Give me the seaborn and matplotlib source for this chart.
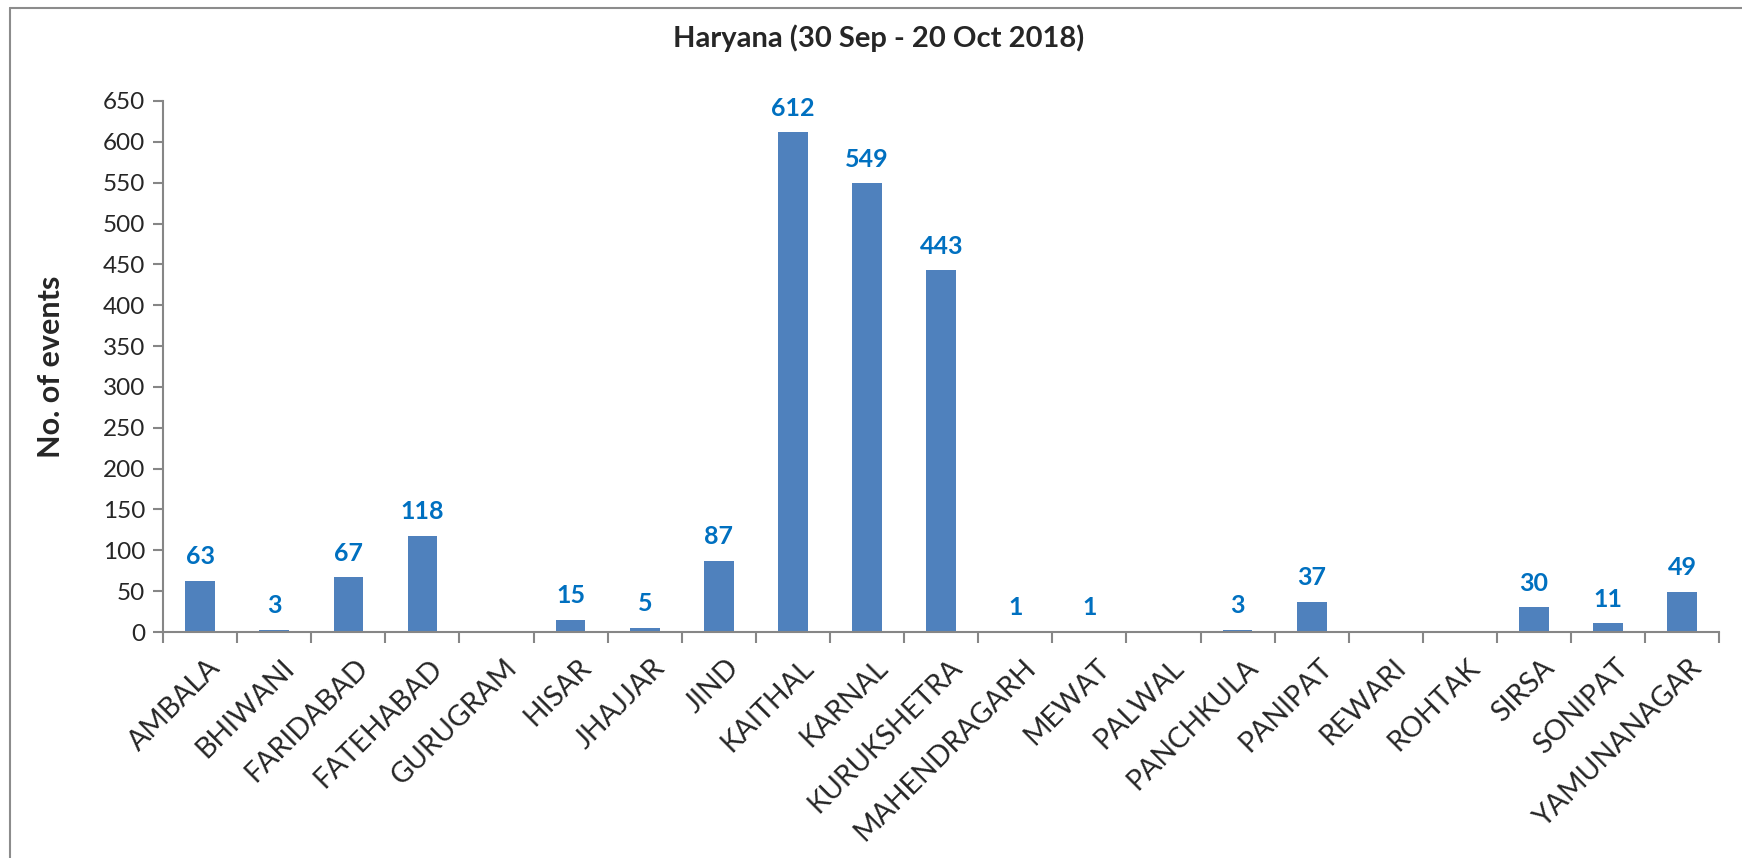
import matplotlib
matplotlib.use("Agg")
import matplotlib.pyplot as plt
import matplotlib.transforms as mtransforms
import seaborn as sns
import pandas as pd
from matplotlib.lines import Line2D

# Data
districts = ['AMBALA', 'BHIWANI', 'FARIDABAD', 'FATEHABAD', 'GURUGRAM', 'HISAR',
             'JHAJJAR', 'JIND', 'KAITHAL', 'KARNAL', 'KURUKSHETRA', 'MAHENDRAGARH',
             'MEWAT', 'PALWAL', 'PANCHKULA', 'PANIPAT', 'REWARI', 'ROHTAK',
             'SIRSA', 'SONIPAT', 'YAMUNANAGAR']
events = [63, 3, 67, 118, 0, 15, 5, 87, 612, 549, 443, 1, 1, 0, 3, 37, 0, 0, 30, 11, 49]
y_ticks = list(range(0, 651, 50))

sns.set_style('white')
plt.rcParams['font.family'] = ['Lato', 'DejaVu Sans']

df = pd.DataFrame({'District': districts, 'Events': events})

fig = plt.figure(figsize=(17.42, 8.58), dpi=100)
ax = fig.add_axes([0.0936, 0.2634, 0.8934, 0.6189])

sns.barplot(data=df, x='District', y='Events', color='#4F81BD', width=0.4,
            saturation=1, edgecolor='#4F81BD', linewidth=0, ax=ax)

ax.set_ylim(0, 650)
ax.set_xlim(-0.5, len(districts) - 0.5)
ax.set_yticks(y_ticks)
ax.set_xlabel('')
ax.set_ylabel('No. of events', fontsize=22, fontweight='bold', labelpad=27)

# title is centred on the whole chart area, not the plot area
fig.text(0.5046, 0.955, 'Haryana (30 Sep - 20 Oct 2018)', fontsize=21,
         fontweight='bold', ha='center', va='center')

# value labels, skip zero bars
for i, v in enumerate(events):
    if v > 0:
        ax.annotate(str(v), (i, v), xytext=(0, 9), textcoords='offset points',
                    ha='center', va='bottom', fontsize=18, fontweight='bold',
                    color='#0070C0')

axis_col = '#868686'
for s in ['top', 'right']:
    ax.spines[s].set_visible(False)
for s in ['left', 'bottom']:
    ax.spines[s].set_color(axis_col)
    ax.spines[s].set_linewidth(1.5)

ax.tick_params(axis='y', which='major', direction='out', length=7, width=1.5,
               color=axis_col, labelsize=17.5, pad=6, left=True)
ax.set_xticks(range(len(districts)))
ax.set_xticklabels(districts, rotation=45, ha='right', rotation_mode='anchor',
                   fontsize=20.5)
ax.tick_params(axis='x', which='major', length=0, pad=16)
ax.set_xticks([i - 0.5 for i in range(len(districts) + 1)], minor=True)
ax.tick_params(axis='x', which='minor', direction='out', length=8, width=1.5,
               color=axis_col, bottom=True)

# nudge category labels a little to the right, like Excel places them
shift = mtransforms.ScaledTranslation(5 / 72, 0, fig.dpi_scale_trans)
for lbl in ax.get_xticklabels():
    lbl.set_transform(lbl.get_transform() + shift)

# chart-area border (top and left edges visible in the reference)
fig.add_artist(Line2D([10 / 1742, 10 / 1742], [0, 1 - 8 / 858],
                      transform=fig.transFigure, color='#8C8C8C', lw=1.5))
fig.add_artist(Line2D([10 / 1742, 1], [1 - 8 / 858, 1 - 8 / 858],
                      transform=fig.transFigure, color='#8C8C8C', lw=1.5))

fig.savefig('out.png', dpi=100)
